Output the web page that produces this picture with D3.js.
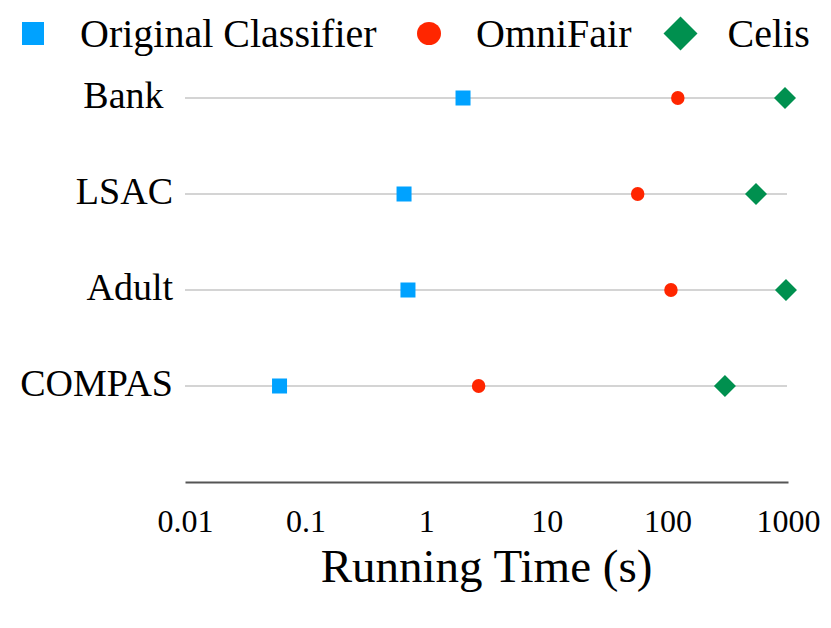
<!DOCTYPE html>
<html>
<head>
<meta charset="utf-8">
<script src="https://cdn.jsdelivr.net/npm/d3@7"></script>
<style>
  html, body { margin: 0; padding: 0; background: #fff; }
  svg { display: block; font-family: "Liberation Serif", "DejaVu Serif", serif; }
</style>
</head>
<body>
<svg id="chart" width="831" height="628"></svg>
<script>
// ---- data ----
const categories = ["Bank", "LSAC", "Adult", "COMPAS"];
const categoryLabels = ["Bank\u00A0", "LSAC", "Adult", "COMPAS"];
const seriesNames = ["Original Classifier", "OmniFair", "Celis"];
const originalClassifier = [2.02, 0.655, 0.706, 0.0608];
const omniFair = [122, 56.7, 107, 2.72];
const celis = [944, 543, 962, 300];
const tickValues = [0.01, 0.1, 1, 10, 100, 1000];
const tickLabels = ["0.01", "0.1", "1", "10", "100", "1000"];
const axisTitle = "Running Time (s)";

const colors = ["#00A2FF", "#FF2600", "#00904F"];
const shapes = ["square", "circle", "diamond"];
const seriesValues = [originalClassifier, omniFair, celis];

const svg = d3.select("#chart");

const x = d3.scaleLog().domain([0.01, 1000]).range([185, 788]);
const y = d3.scalePoint().domain(categories).range([98, 386]);
const axisY = y(categories[categories.length - 1]) + y.step();

// gridlines
svg.append("g").selectAll("line").data(categories).join("line")
  .attr("x1", x(0.01)).attr("x2", x(1000) - 1)
  .attr("y1", d => y(d)).attr("y2", d => y(d))
  .attr("stroke", "#c6c6c6").attr("stroke-width", 1.5);

// category labels
svg.append("g").selectAll("text").data(categories).join("text")
  .attr("x", 173).attr("y", d => y(d) + 10)
  .attr("text-anchor", "end")
  .attr("font-size", 38).attr("fill", "#000")
  .style("white-space", "pre")
  .text((d, i) => categoryLabels[i]);

// x axis
const xAxis = d3.axisBottom(x)
  .tickValues(tickValues)
  .tickFormat((d, i) => tickLabels[i])
  .tickSize(0).tickPadding(27);
const gx = svg.append("g").attr("transform", `translate(0,${axisY})`).call(xAxis);
gx.select(".domain").attr("stroke", "#555").attr("stroke-width", 2);
gx.selectAll(".tick text")
  .attr("font-family", "Liberation Serif, DejaVu Serif, serif")
  .attr("font-size", 32).attr("fill", "#000");

// axis title
svg.append("text")
  .attr("x", (x(0.01) + x(1000)) / 2).attr("y", 582)
  .attr("text-anchor", "middle").attr("font-size", 47).attr("fill", "#000")
  .text(axisTitle);

// marker drawing
function drawMarker(g, shape, color, cx, cy, w, h) {
  if (shape === "square") {
    g.append("rect").attr("x", cx - w / 2).attr("y", cy - h / 2)
      .attr("width", w).attr("height", h).attr("fill", color);
  } else if (shape === "circle") {
    g.append("ellipse").attr("cx", cx).attr("cy", cy)
      .attr("rx", w / 2).attr("ry", h / 2).attr("fill", color);
  } else {
    g.append("path")
      .attr("d", `M${cx},${cy - h / 2}L${cx + w / 2},${cy}L${cx},${cy + h / 2}L${cx - w / 2},${cy}Z`)
      .attr("fill", color);
  }
}

const markerSizes = { square: [15, 15], circle: [13.5, 14], diamond: [22, 22] };
const marks = svg.append("g");
seriesValues.forEach((vals, si) => {
  const shape = shapes[si];
  vals.forEach((v, ci) => {
    const [w, h] = markerSizes[shape];
    drawMarker(marks, shape, colors[si], x(v), y(categories[ci]), w, h);
  });
});

// legend
const legendMarkerX = [33, 429, 680.5];
const legendSizes = { square: [22, 23], circle: [24, 23], diamond: [34, 34] };
const legend = svg.append("g");
seriesNames.forEach((name, i) => {
  const [w, h] = legendSizes[shapes[i]];
  drawMarker(legend, shapes[i], colors[i], legendMarkerX[i], 33.5, w, h);
  legend.append("text")
    .attr("x", legendMarkerX[i] + 47).attr("y", 46.5)
    .attr("font-size", 40).attr("fill", "#000")
    .text(name);
});
</script>
</body>
</html>
